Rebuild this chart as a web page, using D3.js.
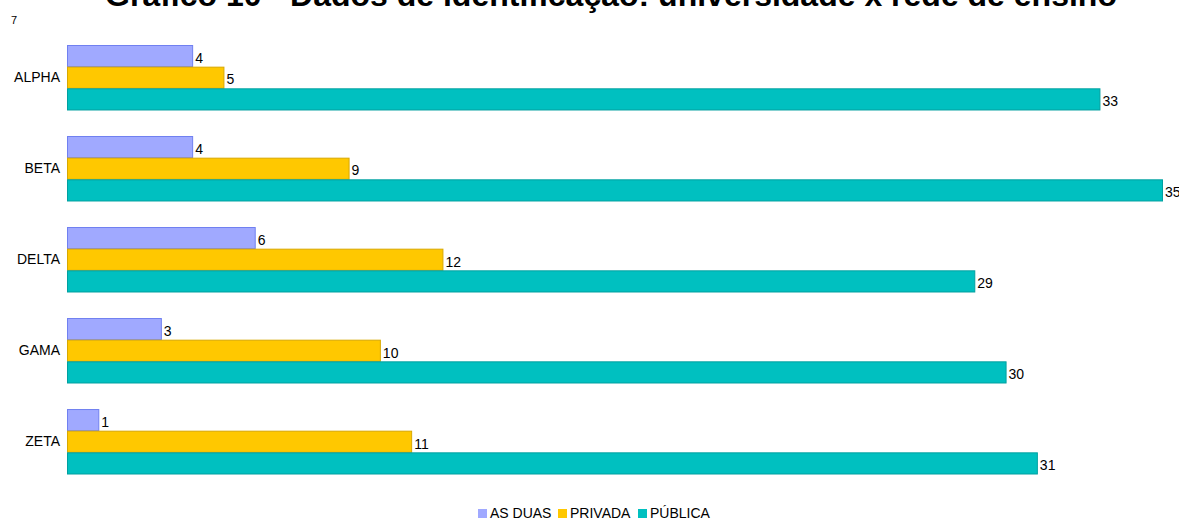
<!DOCTYPE html>
<html><head><meta charset="utf-8">
<script src="https://cdn.jsdelivr.net/npm/d3@7"></script>
<style>body{margin:0;background:#fff}svg{display:block;font-family:"Liberation Sans",Arial,sans-serif}</style>
</head><body>
<script>
const categories = ["ALPHA","BETA","DELTA","GAMA","ZETA"];
const seriesNames = ["AS DUAS","PRIVADA","PÚBLICA"];
const asDuas = [4,4,6,3,1];
const privada = [5,9,12,10,11];
const publica = [33,35,29,30,31];
const seriesValues = [asDuas, privada, publica];
const fills = ["#a0a9ff","#ffc800","#00c0c0"];
const strokes = ["#7080f0","#d8a800","#00a0a0"];

const W = 1179, H = 520;
const svg = d3.select("body").append("svg").attr("width", W).attr("height", H);

const x = d3.scaleLinear().domain([0,35]).range([67,1162]);
const y0 = d3.scaleBand().domain(categories).range([45, 45 + 91*5 - 26]).paddingInner(0.286).paddingOuter(0);
const y1 = d3.scaleBand().domain(seriesNames).range([0, y0.bandwidth()]);

svg.append("text").attr("x", 611).attr("y", 6).attr("text-anchor","middle")
  .attr("font-weight","bold").attr("font-size", 32).attr("fill","#000")
  .text("Gráfico 10 - Dados de identificação: universidade x rede de ensino");
svg.append("text").attr("x", 11).attr("y", 24).attr("font-size", 11).attr("fill","#000").text("7");

const g = svg.append("g");
categories.forEach((c, ci) => {
  seriesNames.forEach((s, si) => {
    const v = seriesValues[si][ci];
    const yy = y0(c) + y1(s);
    g.append("rect").attr("x", x(0)+0.5).attr("y", yy+0.5)
      .attr("width", x(v)-x(0)).attr("height", y1.bandwidth()-0.5)
      .attr("fill", fills[si]).attr("stroke", strokes[si]).attr("stroke-width", 1);
    g.append("text").attr("x", x(v)+3).attr("y", yy + y1.bandwidth()/2 + 7)
      .attr("font-size", 14).attr("fill","#000").text(v);
  });
});

const yAxis = d3.axisLeft(y0).tickSize(0).tickPadding(7);
const ag = svg.append("g").attr("transform", `translate(${x(0)},0)`).call(yAxis);
ag.select(".domain").remove();
ag.selectAll("text").attr("font-size", 14).attr("fill","#000").attr("font-family","Liberation Sans, Arial, sans-serif");

const legX = [478, 558, 638];
seriesNames.forEach((s, si) => {
  svg.append("rect").attr("x", legX[si]).attr("y", 509).attr("width", 9).attr("height", 9).attr("fill", fills[si]);
  svg.append("text").attr("x", legX[si]+12).attr("y", 518).attr("font-size", 14).attr("fill","#000").text(s);
});
</script>
</body></html>
